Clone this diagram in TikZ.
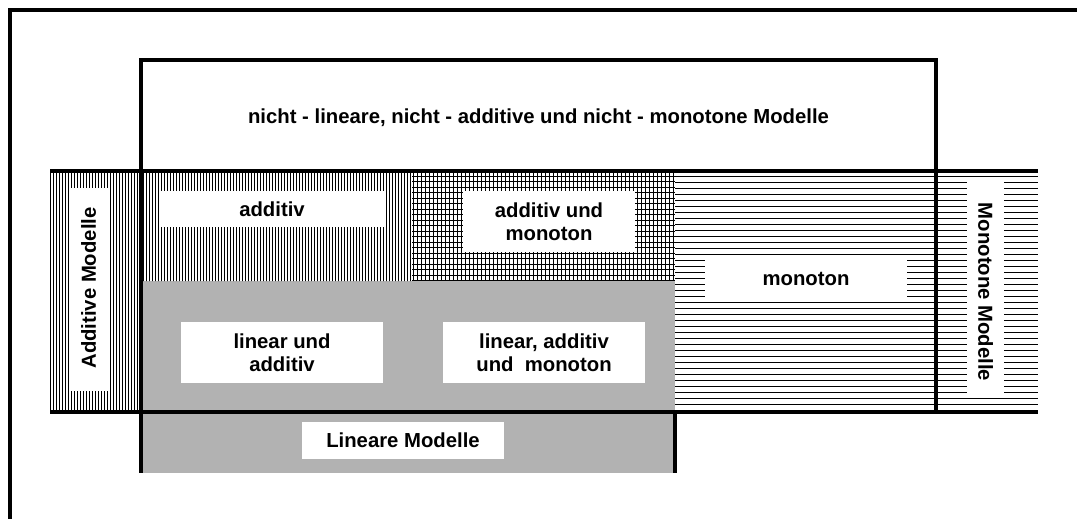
\documentclass[tikz,border=0pt]{standalone}
\usepackage{fontspec}
\setmainfont{Liberation Sans}
\begin{document}
\begin{tikzpicture}[x=1pt,y=-1pt,
  bigline/.style={line width=3.4pt},
  hatch/.style={line width=0.8pt,black},
  lbl/.style={fill=white,inner sep=0pt,align=center,
    font=\fontsize{20.3}{23}\selectfont\bfseries},
  ttl/.style={inner sep=0pt,align=center,
    font=\fontsize{20.3}{23}\selectfont\bfseries}]
\useasboundingbox (0,0) rectangle (1077,519);

% outer frame (top and left edges)
\draw[bigline] (10,519) -- (10,10) -- (1077,10);

% grey area of the linear models
\fill[black!30] (141,281) rectangle (675,473);

% vertical hatching: additive band and additive region
\begin{scope}
  \clip (50,171) rectangle (141,412) (141,171) rectangle (412,281);
  \foreach \x in {50,53,...,412} \draw[hatch] (\x,171) -- (\x,412);
\end{scope}

% cross hatching: additive and monotone region
\begin{scope}
  \clip (412,171) rectangle (675,281);
  \foreach \x in {413,417,...,675} \draw[hatch] (\x,171) -- (\x,281);
  \foreach \y in {176,181.5,...,281} \draw[hatch] (412,\y) -- (675,\y);
\end{scope}

% horizontal hatching: monotone region and monotone band
\begin{scope}
  \clip (675,171) rectangle (1038,412);
  \foreach \y in {176,182,...,412} \draw[hatch] (675,\y) -- (1038,\y);
\end{scope}

% labels on white boxes
\node[lbl,minimum width=39pt,minimum height=203pt] (addband) at (88.5,289.5) {};
\node[ttl,rotate=90] (addtxt) at (88.5,288) {Additive Modelle};
\node[lbl,minimum width=37pt,minimum height=218pt] (monband) at (985.5,289) {};
\node[ttl,rotate=-90] (montxt) at (985.5,292) {Monotone Modelle};

\node[lbl,minimum width=224pt,minimum height=36pt] (add) at (272,209) {additiv};
\node[lbl,minimum width=172pt,minimum height=61pt] (addmon) at (549,221.5) {additiv und\\monoton};
\node[lbl,minimum width=202pt,minimum height=37pt] (mon) at (806,278.5) {monoton};
\node[lbl,minimum width=202pt,minimum height=61pt] (linadd) at (282,352.5) {linear und\\additiv};
\node[lbl,minimum width=202pt,minimum height=61pt] (linaddmon) at (544,352.5) {linear, additiv\\und\ \ monoton};
\node[lbl,minimum width=202pt,minimum height=37pt] (lin) at (403,440.5) {Lineare Modelle};

\node[ttl] (title) at (538.5,118) {nicht - lineare, nicht - additive und nicht - monotone Modelle};

% structure lines
\draw[bigline] (141,171) -- (141,60) -- (936,60) -- (936,412);
\draw[bigline] (50,171) -- (1038,171);
\draw[bigline] (50,412) -- (1038,412);
\draw[bigline] (141,171) -- (141,473);
\draw[bigline] (675,412) -- (675,473);
\end{tikzpicture}
\end{document}
